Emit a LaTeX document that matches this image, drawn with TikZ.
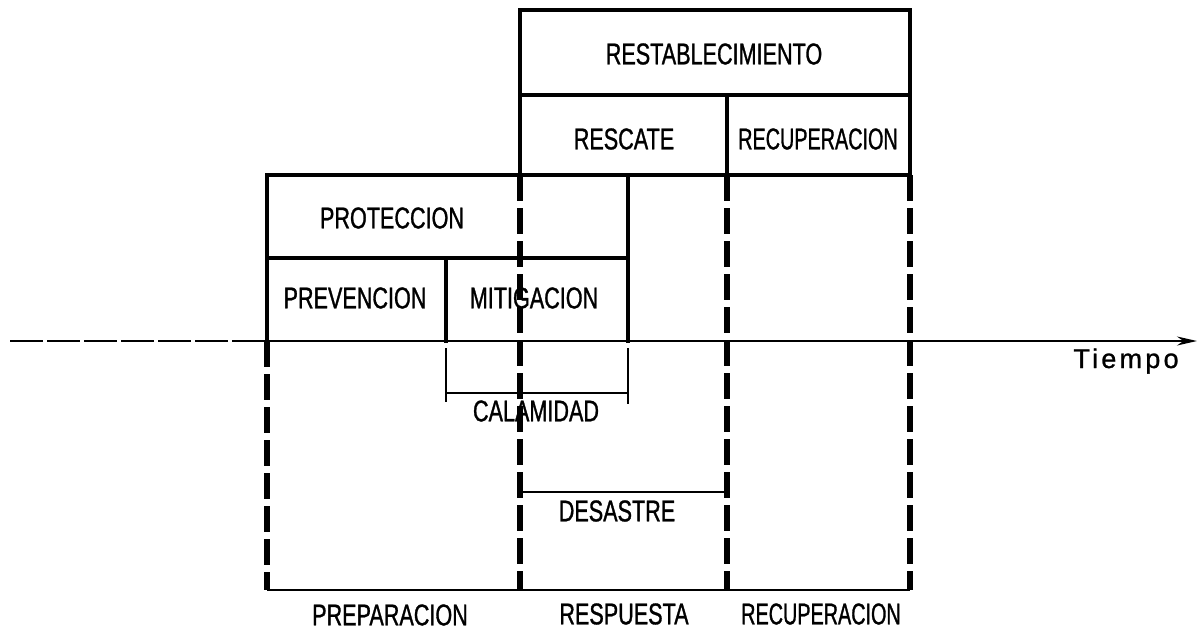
\documentclass[tikz,border=0pt]{standalone}
\usepackage{fontspec}
\setmainfont{Liberation Sans}
\newfontfamily\lblfont[FakeStretch=0.72,FakeBold=1]{Liberation Sans}
\newfontfamily\lblnarrow[FakeStretch=0.66,FakeBold=1]{Liberation Sans}
\newfontfamily\axfont[LetterSpace=12,FakeBold=1]{Liberation Sans}
\usetikzlibrary{arrows.meta}
\begin{document}
\begin{tikzpicture}[x=0.5pt,y=-0.5pt,
  lbl/.style={font=\lblfont\fontsize{15}{17}\selectfont, inner sep=0pt},
  lbln/.style={font=\lblnarrow\fontsize{15}{17}\selectfont, inner sep=0pt},
  axlbl/.style={font=\axfont\fontsize{13.5}{15}\selectfont, inner sep=0pt},
  box/.style={line width=1.9pt, line cap=rect},
  phase/.style={line width=3.2pt, dash pattern=on 13pt off 3.5pt},
  axis/.style={line width=1.1pt},
  thinl/.style={line width=0.9pt}]
\useasboundingbox (0,0) rectangle (1199,632);
% key coordinates
\coordinate (T0) at (520,10);  \coordinate (T1) at (910,10);
\coordinate (M0) at (520,95);  \coordinate (M1) at (910,95);  \coordinate (Mr) at (727,95);
\coordinate (P0) at (267,175); \coordinate (PD) at (520,175); \coordinate (PP) at (628,175);
\coordinate (PR) at (727,175); \coordinate (PE) at (910,175);
\coordinate (Q0) at (267,258); \coordinate (QM) at (446,258); \coordinate (QP) at (628,258);
\coordinate (A0) at (10,341);  \coordinate (AL) at (267,341); \coordinate (AM) at (446,341);
\coordinate (AP) at (628,341); \coordinate (A1) at (1197,341);
\coordinate (B0) at (267,590); \coordinate (BD) at (520,590); \coordinate (BR) at (727,590);
\coordinate (BE) at (910,590);
% upper boxes
\draw[box] (T0) rectangle (PE);
\draw[box] (M0) -- (M1);
\draw[box] (Mr) -- (PR);
\draw[box] (P0) -- (PE);
\draw[box] (P0) -- (AL);
\draw[box] (PP) -- (AP);
\draw[box] (Q0) -- (QP);
\draw[box] (QM) -- (AM);
% phase dashed verticals
\draw[phase] (PD) -- (BD);
\draw[phase] (PR) -- (BR);
\draw[phase] (PE) -- (BE);
\draw[phase] (AL) -- (B0);
% time axis
\draw[axis, dash pattern=on 16.5pt off 2pt] (A0) -- (AL);
\draw[axis, -{Stealth[length=10pt,width=4.5pt]}] (AL) -- (A1);
% bottom line
\draw[axis] (B0) -- (BE);
% calamidad bracket
\coordinate (C0t) at (446,348); \coordinate (C0b) at (446,402);
\coordinate (C1t) at (628,348); \coordinate (C1b) at (628,404);
\coordinate (C0) at (446,393);  \coordinate (C1) at (628,393);
\draw[thinl] (C0t) -- (C0b);
\draw[thinl] (C1t) -- (C1b);
\draw[thinl] (C0) -- (C1);
% desastre bracket
\coordinate (D0) at (520,492); \coordinate (D1) at (727,492);
\draw[thinl] (D0) -- (D1);
% labels
\node[lbl] (rest) at (714,54) {RESTABLECIMIENTO};
\node[lbl] (resc) at (624,139) {RESCATE};
\node[lbln] (recu) at (818,139) {RECUPERACION};
\node[lbl] (prot) at (392,218) {PROTECCION};
\node[lbl] (prev) at (355,298) {PREVENCION};
\node[lbl] (miti) at (534,298) {MITIGACION};
\node[lbl] (cala) at (536,411) {CALAMIDAD};
\node[lbl] (desa) at (617,511) {DESASTRE};
\node[lbl] (prep) at (390,615) {PREPARACION};
\node[lbl] (resp) at (624,614) {RESPUESTA};
\node[lbln] (recb) at (821,614) {RECUPERACION};
\node[axlbl, anchor=base] (tiem) at (1126,368) {Tiempo};
\end{tikzpicture}
\end{document}
